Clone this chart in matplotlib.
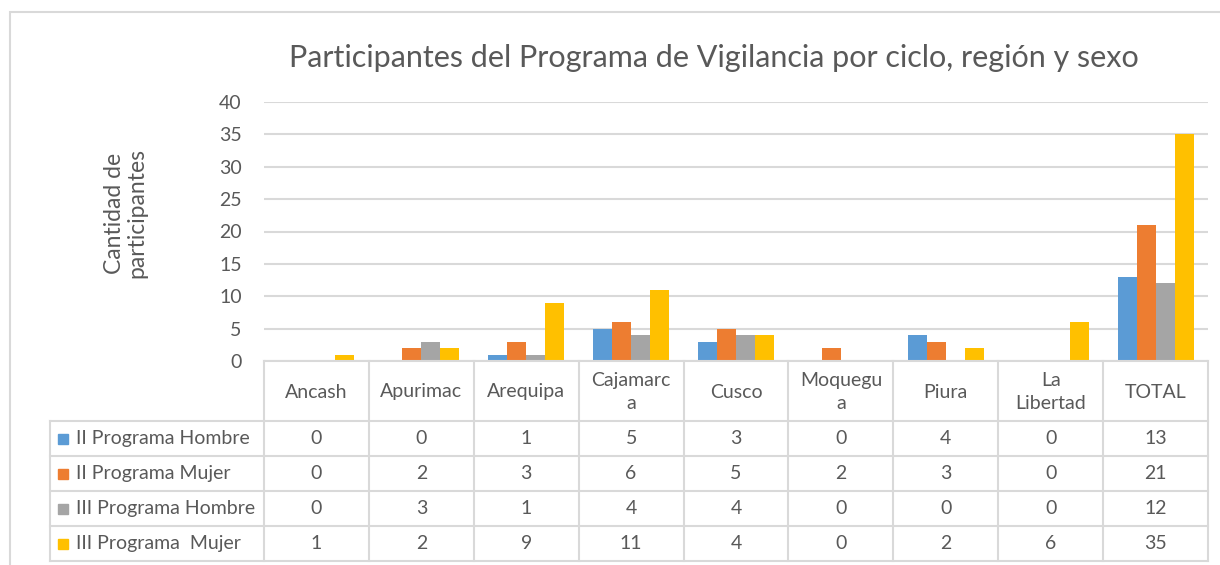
import matplotlib.pyplot as plt
import numpy as np

plt.rcParams['font.family'] = ['Lato', 'DejaVu Sans']

regiones = ["Ancash", "Apurimac", "Arequipa", "Cajamarc\na", "Cusco",
            "Moquegu\na", "Piura", "La\nLibertad", "TOTAL"]
series = ["II Programa Hombre", "II Programa Mujer",
          "III Programa Hombre", "III Programa  Mujer"]
ii_hombre = [0, 0, 1, 5, 3, 0, 4, 0, 13]
ii_mujer = [0, 2, 3, 6, 5, 2, 3, 0, 21]
iii_hombre = [0, 3, 1, 4, 4, 0, 0, 0, 12]
iii_mujer = [1, 2, 9, 11, 4, 0, 2, 6, 35]
valores = [ii_hombre, ii_mujer, iii_hombre, iii_mujer]
colores = ["#5b9bd5", "#ed7d31", "#a5a5a5", "#ffc000"]

texto = "#595959"
linea = "#d9d9d9"

W, H = 1220, 565
fig = plt.figure(figsize=(W / 100, H / 100), dpi=100)

# marco exterior
fig.patches.append(plt.Rectangle((10 / W, -0.1), 1.2, (565 - 12) / H + 0.1,
                                 transform=fig.transFigure, fill=False,
                                 edgecolor=linea, linewidth=1.5))

x0, x1, ytop, ybase, ybot = 264, 1208, 102, 361, 561
ax = fig.add_axes([x0 / W, (H - ybase) / H, (x1 - x0) / W, (ybase - ytop) / H])

n = len(regiones)
x = np.arange(n)
bw = 0.181
for i, (vals, c) in enumerate(zip(valores, colores)):
    ax.bar(x + (i - 1.5) * bw, vals, bw, color=c, zorder=3)

ax.set_xlim(-0.5, n - 0.5)
ax.set_ylim(0, 40)
ax.set_yticks(range(0, 41, 5))
ax.yaxis.grid(True, color=linea, linewidth=1.5, zorder=0)
ax.tick_params(axis='y', length=0, labelsize=14, labelcolor=texto, pad=16)
ax.set_xticks([])
for s in ax.spines.values():
    s.set_visible(False)

ax.set_ylabel("Cantidad de\nparticipantes", fontsize=16.5, color=texto,
              linespacing=1.05)
ax.yaxis.set_label_coords(-0.124, 0.57)

fig.text(714 / W, (H - 58) / H, "Participantes del Programa de Vigilancia por ciclo, región y sexo",
         ha='center', va='center', fontsize=22, color=texto)

# tabla de datos
tb = fig.add_axes([0, 0, 1, 1], facecolor='none')
tb.set_xlim(0, W)
tb.set_ylim(H, 0)
tb.axis('off')

colw = (x1 - x0) / n
bounds = [x0 + i * colw for i in range(n + 1)]
leg_left = 50
rows = [ybase, 421, 456, 491, 526, ybot]

lw = 1.5
# horizontales
tb.plot([x0, x1], [rows[0], rows[0]], color=linea, lw=lw)
for r in rows[1:]:
    tb.plot([leg_left, x1], [r, r], color=linea, lw=lw)
# verticales
tb.plot([leg_left, leg_left], [rows[1], rows[-1]], color=linea, lw=lw)
for b in bounds:
    tb.plot([b, b], [rows[0], rows[-1]], color=linea, lw=lw)

for j, nombre in enumerate(regiones):
    cx = (bounds[j] + bounds[j + 1]) / 2
    tb.text(cx, (rows[0] + rows[1]) / 2 + 1, nombre, ha='center', va='center',
            fontsize=14, color=texto, linespacing=1.4)

for i, (nombre, vals, c) in enumerate(zip(series, valores, colores)):
    cy = (rows[i + 1] + rows[i + 2]) / 2
    tb.add_patch(plt.Rectangle((58, cy - 5), 10, 10, color=c))
    tb.text(76, cy, nombre, ha='left', va='center', fontsize=14, color=texto)
    for j, v in enumerate(vals):
        cx = (bounds[j] + bounds[j + 1]) / 2
        tb.text(cx, cy, str(v), ha='center', va='center', fontsize=14, color=texto)

fig.savefig("out.png", dpi=100, facecolor='white')
